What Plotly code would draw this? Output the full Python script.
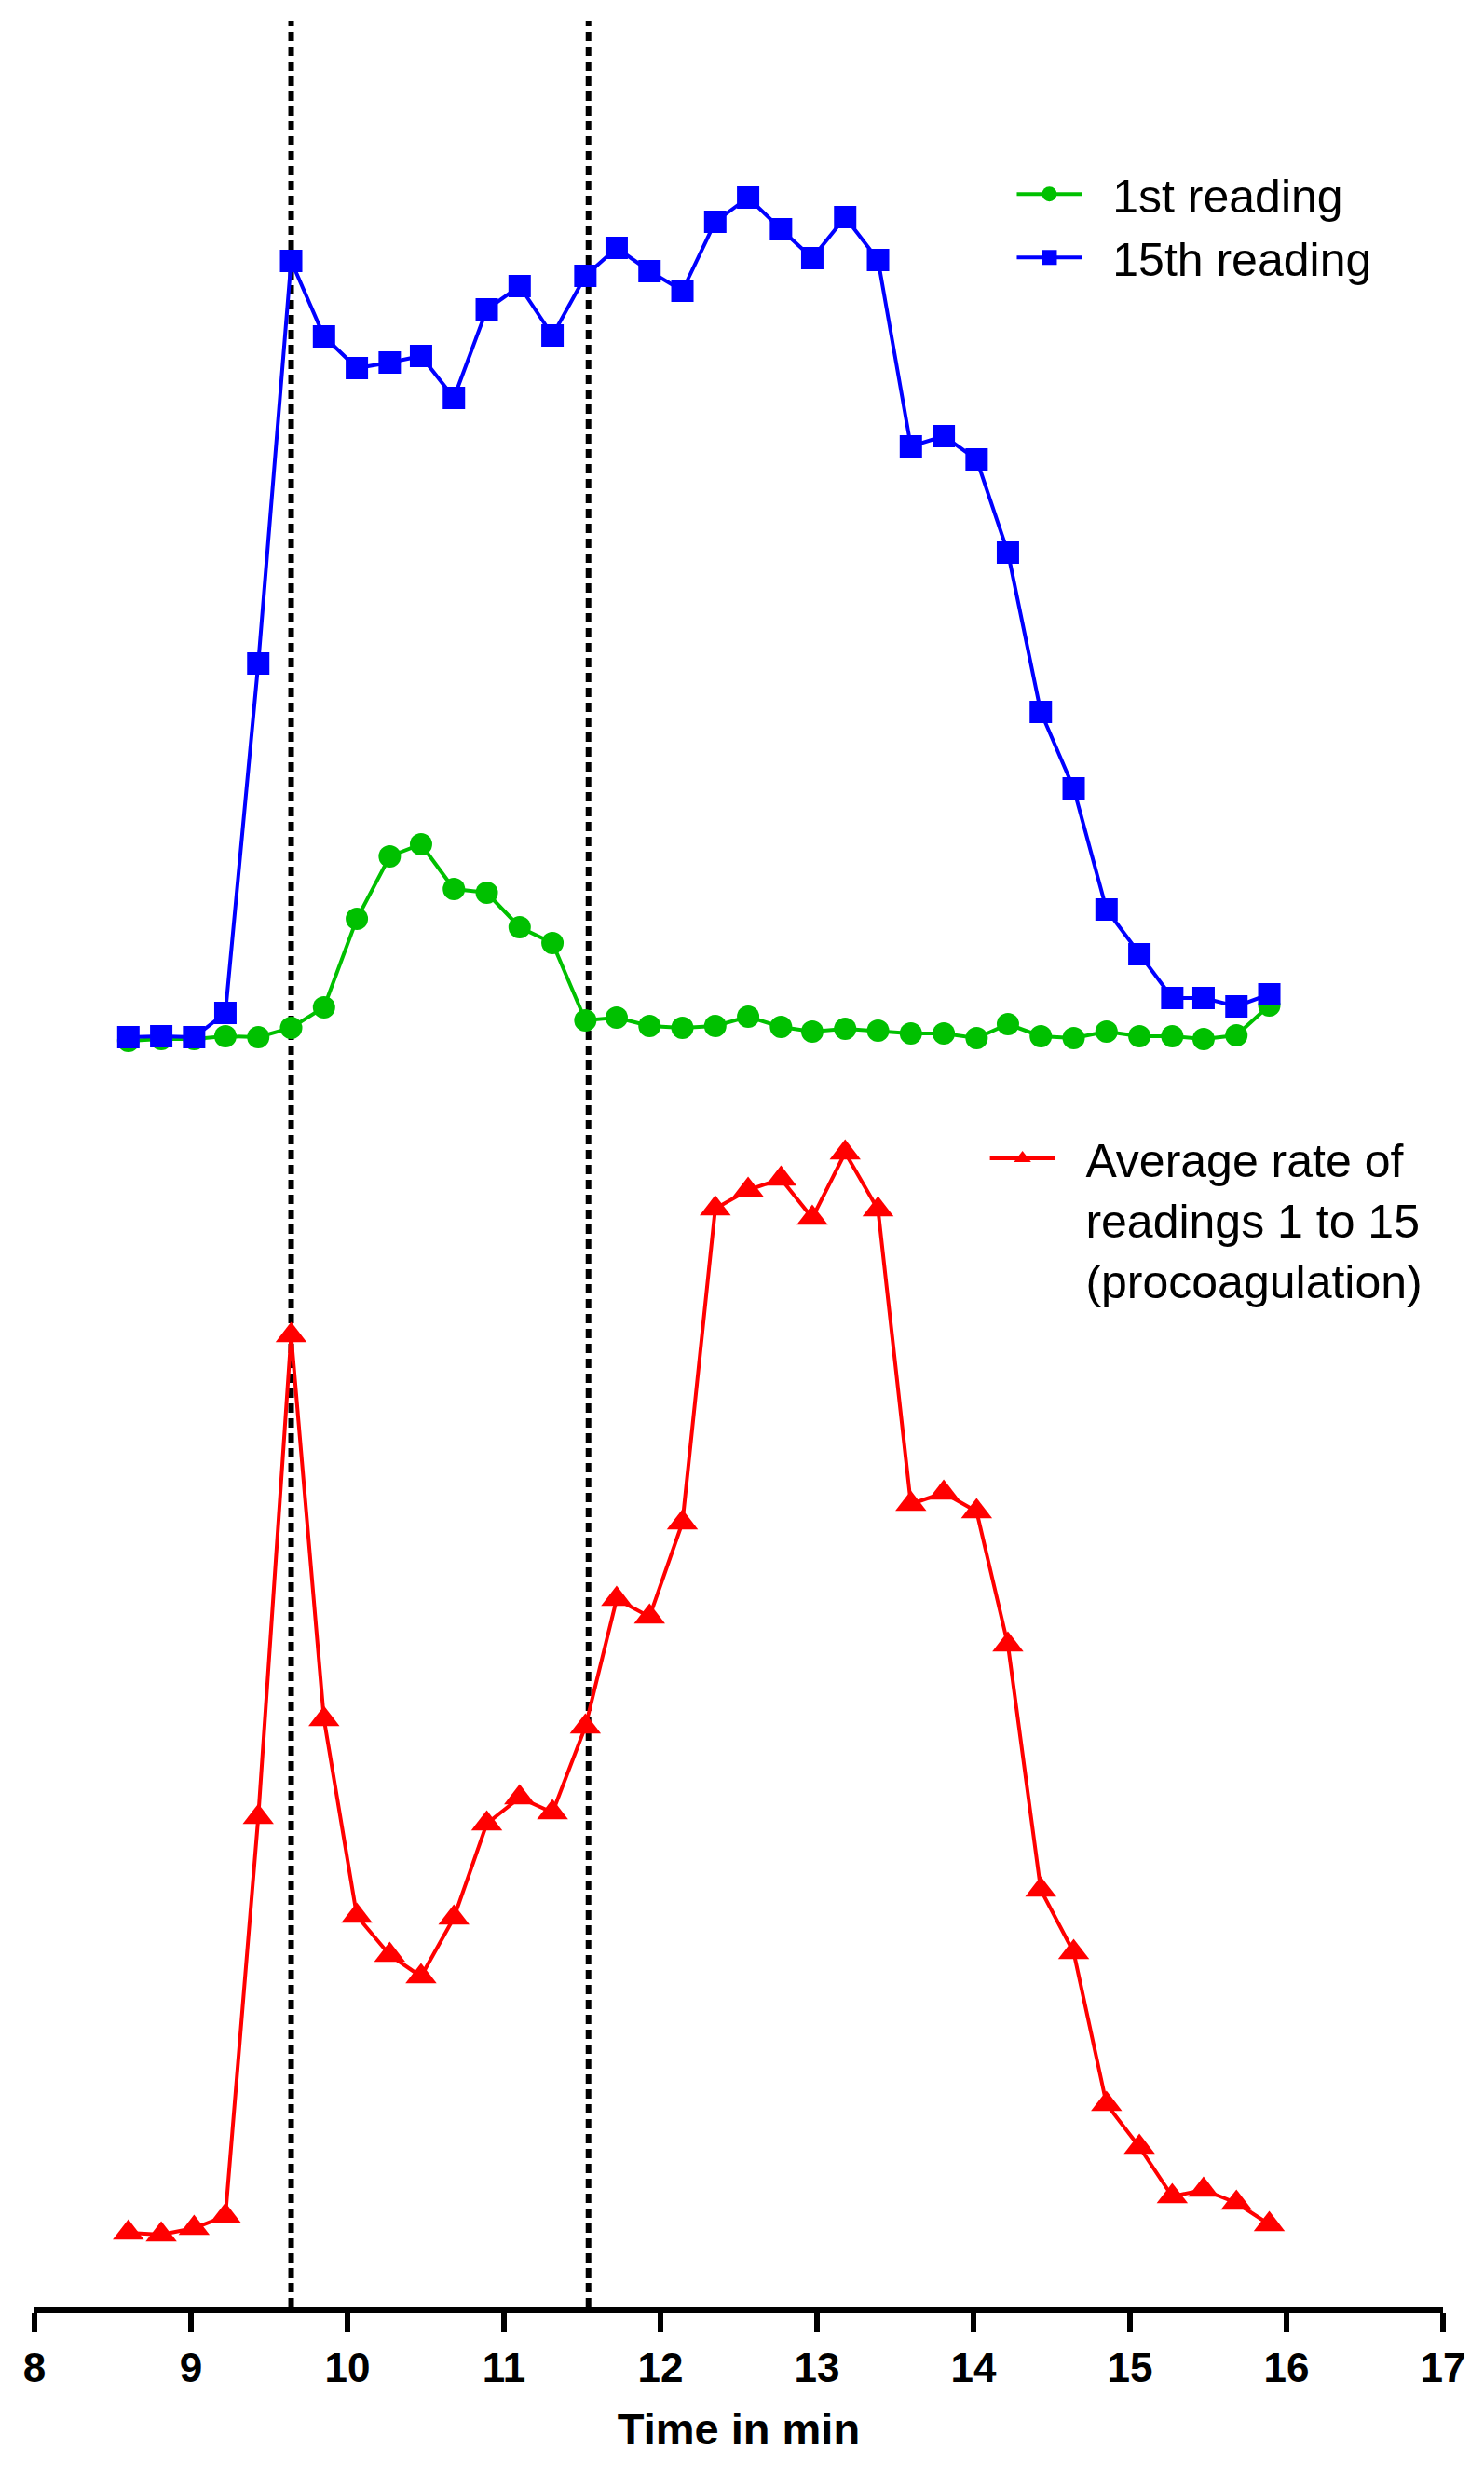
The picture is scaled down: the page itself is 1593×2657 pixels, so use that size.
import plotly.graph_objects as go

# Time points (min)
times = [8.60, 8.81, 9.02, 9.22, 9.43, 9.64, 9.85, 10.06, 10.27, 10.47, 10.68, 10.89,
         11.10, 11.31, 11.52, 11.72, 11.93, 12.14, 12.35, 12.56, 12.77, 12.97, 13.18, 13.39,
         13.60, 13.81, 14.02, 14.22, 14.43, 14.64, 14.85, 15.06, 15.27, 15.47, 15.68, 15.89]

# 1st reading (arbitrary units)
first_reading = [1.3, 1.5, 1.5, 1.8, 1.7, 2.7, 4.9, 14.4, 21.1, 22.4, 17.6, 17.2,
                 13.5, 11.8, 3.5, 3.8, 2.9, 2.7, 2.9, 3.9, 2.8, 2.3, 2.6, 2.4,
                 2.1, 2.1, 1.6, 3.1, 1.8, 1.6, 2.3, 1.8, 1.8, 1.5, 1.9, 5.1]

# 15th reading (arbitrary units)
fifteenth_reading = [1.7, 1.8, 1.7, 4.3, 41.8, 85.0, 76.9, 73.5, 74.1, 74.8, 70.3, 79.8,
                     82.3, 77.0, 83.4, 86.4, 83.9, 81.8, 89.2, 91.8, 88.4, 85.3, 89.7, 85.1,
                     65.1, 66.2, 63.7, 53.7, 36.6, 28.4, 15.4, 10.6, 5.9, 5.9, 5.0, 6.3]

# Average rate of readings 1 to 15 (arbitrary units)
average_rate = [8.8, 8.6, 9.3, 10.6, 53.4, 105.1, 63.9, 42.8, 38.6, 36.3, 42.6, 52.7,
                55.5, 53.9, 63.1, 76.8, 74.9, 85.0, 118.7, 120.7, 121.9, 117.7, 124.7, 118.6,
                87.0, 88.2, 86.2, 71.9, 45.6, 38.9, 22.6, 18.0, 12.7, 13.4, 12.0, 9.7]

# Vertical reference lines (min)
marker_times = [9.64, 11.54]

x_ticks = [8, 9, 10, 11, 12, 13, 14, 15, 16, 17]

legend_names = ["1st reading", "15th reading",
                ["Average rate of", "readings 1 to 15", "(procoagulation)"]]

FONT = "Arial, Liberation Sans, sans-serif"
GREEN = "#00C000"
BLUE = "#0000FF"
RED = "#FF0000"
PAD = "\u00a0\u00a0"  # small gap between legend symbol and text


def label(lines):
    if isinstance(lines, str):
        lines = [lines]
    return "<br>".join(PAD + s for s in lines)


fig = go.Figure()

fig.add_trace(go.Scatter(
    x=times, y=first_reading, mode="lines+markers", name=label(legend_names[0]),
    line=dict(color=GREEN, width=4), marker=dict(symbol="circle", size=24, color=GREEN),
    yaxis="y2", legend="legend", cliponaxis=False))
fig.add_trace(go.Scatter(
    x=times, y=fifteenth_reading, mode="lines+markers", name=label(legend_names[1]),
    line=dict(color=BLUE, width=4), marker=dict(symbol="square", size=24, color=BLUE),
    yaxis="y2", legend="legend", cliponaxis=False))
fig.add_trace(go.Scatter(
    x=times, y=average_rate, mode="lines+markers", name=label(legend_names[2]),
    line=dict(color=RED, width=4), marker=dict(symbol="triangle-up", size=29, color=RED),
    yaxis="y", legend="legend2", cliponaxis=False))

for t in marker_times:
    fig.add_shape(type="line", xref="x", yref="paper", x0=t, x1=t, y0=0, y1=1,
                  line=dict(color="black", width=6, dash="10px,6px"), layer="below")

fig.update_layout(
    width=1577, height=2641,
    margin=dict(l=29, r=31, t=15, b=173),
    paper_bgcolor="white", plot_bgcolor="white",
    font=dict(family=FONT, color="black"),
    xaxis=dict(
        range=[8, 17], tickvals=x_ticks, ticktext=[str(v) for v in x_ticks],
        showline=True, linecolor="black", linewidth=6,
        ticks="outside", ticklen=21, tickwidth=6, tickcolor="black",
        tickfont=dict(family=FONT, size=44, color="black", weight="bold"),
        showgrid=False, zeroline=False,
        title=dict(text="Time in min", font=dict(family=FONT, size=47, color="black", weight="bold"),
                   standoff=28),
    ),
    yaxis=dict(range=[0.8, 246.1], visible=False, showgrid=False, zeroline=False),
    yaxis2=dict(range=[-134.6, 110.7], overlaying="y", visible=False, showgrid=False, zeroline=False),
    legend=dict(x=0.6941, y=0.9404, xanchor="left", yanchor="top",
                font=dict(family=FONT, size=50, color="black"),
                bgcolor="rgba(0,0,0,0)", itemwidth=70, tracegroupgap=0),
    legend2=dict(x=0.6750, y=0.5185, xanchor="left", yanchor="top", valign="top",
                 font=dict(family=FONT, size=50, color="black"),
                 bgcolor="rgba(0,0,0,0)", itemwidth=70),
    showlegend=True,
)

fig.write_html("out.html")
